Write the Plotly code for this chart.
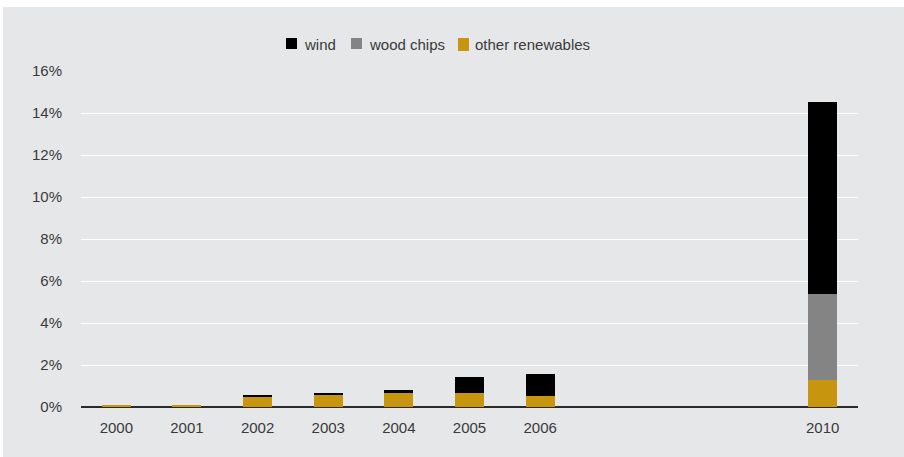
import plotly.graph_objects as go

years = [2000, 2001, 2002, 2003, 2004, 2005, 2006, 2010]
other_renewables = [0.06, 0.11, 0.48, 0.57, 0.67, 0.67, 0.52, 1.29]
wood_chips = [0, 0, 0, 0, 0, 0, 0, 4.09]
wind = [0, 0, 0.06, 0.11, 0.15, 0.76, 1.05, 9.14]

y_ticks = [0, 2, 4, 6, 8, 10, 12, 14, 16]
y_tick_text = [f"{v}%" for v in y_ticks]

BG = "#e6e7e8"
TXT = "#3a3a3a"
FONT = "Liberation Sans, Arial, sans-serif"
COL_WIND = "#000000"
COL_WOOD = "#848484"
COL_OTHER = "#c7950e"

fig = go.Figure()
fig.add_bar(x=years, y=other_renewables, name="other renewables",
            marker=dict(color=COL_OTHER, line=dict(width=0)), width=0.41)
fig.add_bar(x=years, y=wood_chips, name="wood chips",
            marker=dict(color=COL_WOOD, line=dict(width=0)), width=0.41)
fig.add_bar(x=years, y=wind, name="wind",
            marker=dict(color=COL_WIND, line=dict(width=0)), width=0.41)

W, H = 904, 457
L, R, T, B = 81, 46, 71, 50
pw, ph = W - L - R, H - T - B


def px_x(p):
    return (p - L) / pw


def px_y(p):
    return (H - B - p) / ph


shapes = [
    # white strip along the top and left of the page
    dict(type="rect", xref="paper", yref="paper", layer="below",
         x0=px_x(-5), x1=px_x(W + 5), y0=px_y(7), y1=px_y(-5),
         fillcolor="white", line=dict(width=0)),
    dict(type="rect", xref="paper", yref="paper", layer="below",
         x0=px_x(-5), x1=px_x(3), y0=px_y(H + 5), y1=px_y(-5),
         fillcolor="white", line=dict(width=0)),
    # shadow under the baseline
    dict(type="line", xref="paper", yref="y", x0=0, x1=1, y0=-0.07, y1=-0.07,
         line=dict(color="#9a9a9a", width=1.5), layer="below"),
]

# legend: colour swatch + label, laid out in a single row
legend_items = [
    ("wind", COL_WIND, 286, 38, 49, 302),
    ("wood chips", COL_WOOD, 351, 38, 49, 367),
    ("other renewables", COL_OTHER, 458, 38, 51, 473),
]
annotations = []
for label, col, sx, sy0, sy1, tx in legend_items:
    shapes.append(dict(type="rect", xref="paper", yref="paper",
                       x0=px_x(sx), x1=px_x(sx + 11),
                       y0=px_y(sy1), y1=px_y(sy0),
                       fillcolor=col, line=dict(width=0)))
    annotations.append(dict(text=label, xref="paper", yref="paper",
                            x=px_x(tx), y=px_y(44), xanchor="left",
                            yanchor="middle", showarrow=False,
                            font=dict(family=FONT, size=15, color=TXT)))

fig.update_layout(
    width=W, height=H,
    margin=dict(l=L, r=R, t=T, b=B),
    paper_bgcolor=BG, plot_bgcolor=BG,
    barmode="stack",
    bargap=0,
    showlegend=False,
    font=dict(family=FONT, size=15, color=TXT),
    shapes=shapes,
    annotations=annotations,
    xaxis=dict(range=[1999.5, 2010.5], tickmode="array",
               tickvals=years, ticktext=[str(y) for y in years],
               showgrid=False, zeroline=False, showline=False,
               ticks="", ticklabelstandoff=10,
               tickfont=dict(size=15, color=TXT)),
    yaxis=dict(range=[0, 16], tickmode="array", tickvals=y_ticks,
               ticktext=y_tick_text, showgrid=True, gridcolor="white",
               gridwidth=1.2, zeroline=True, zerolinecolor="#2a2a2a",
               zerolinewidth=1.8, showline=False, ticks="",
               ticklabelstandoff=18, tickfont=dict(size=15, color=TXT)),
)

fig.write_html("out.html")
